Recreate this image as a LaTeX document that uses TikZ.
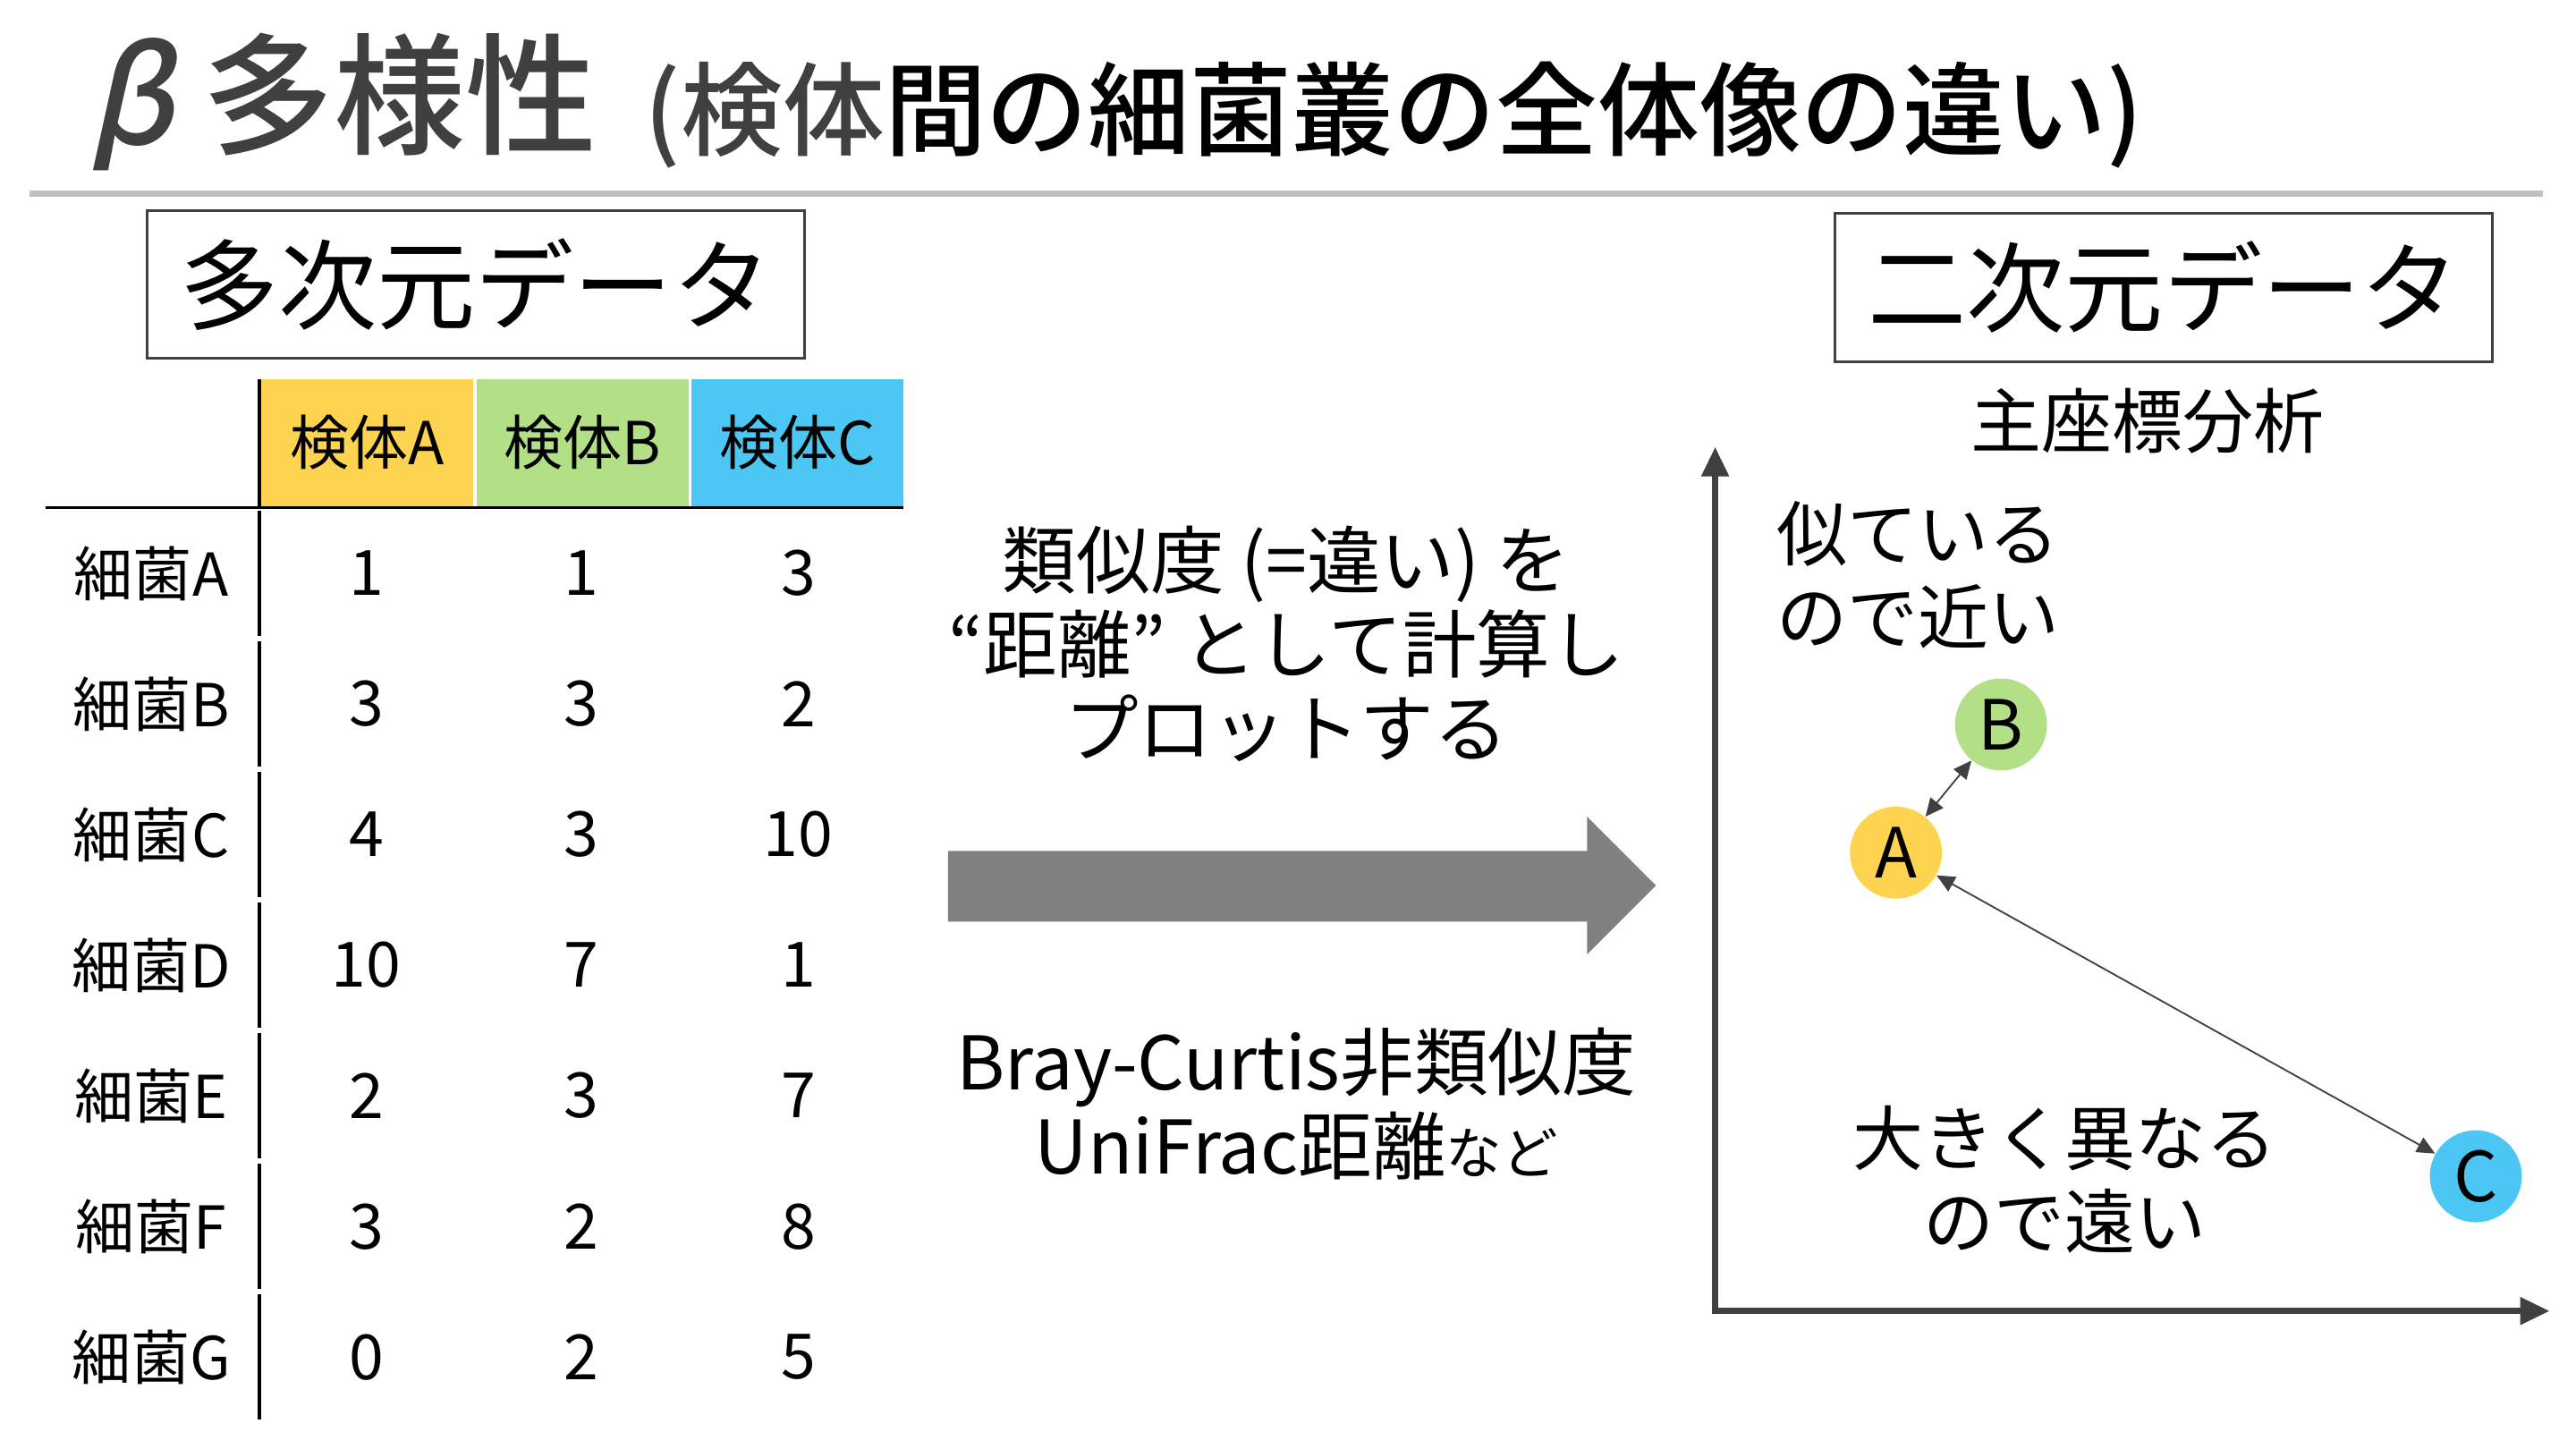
\documentclass[tikz,border=0pt]{standalone}
\usepackage{fontspec}
\setmainfont{Noto Sans CJK JP}
\newfontfamily\ttlfont{Noto Sans CJK JP}[UprightFont=* Medium]
\newfontfamily\slantcjk{Noto Sans CJK JP}[UprightFont=* Medium, FakeSlant=0.22]
\usetikzlibrary{arrows.meta, positioning}
\definecolor{ttlgray}{HTML}{404040}
\definecolor{lightline}{HTML}{C0C0C0}
\definecolor{bigarrow}{HTML}{808080}
\definecolor{smpA}{HTML}{FED34F}
\definecolor{smpB}{HTML}{B3DF86}
\definecolor{smpC}{HTML}{4CC6F2}
\tikzset{
    databox/.style={rectangle, draw=ttlgray, line width=0.8pt, minimum width=200pt, minimum height=45pt, font=\fontsize{30}{36}\selectfont}, % boxes at the top
    hdr/.style={rectangle, inner sep=0pt, minimum width=64.5pt, minimum height=38.5pt, font=\fontsize{18}{22}\selectfont},
    rowlbl/.style={inner sep=0pt, font=\fontsize{18}{22}\selectfont},
    cellnum/.style={inner sep=0pt, font=\fontsize{19}{22}\selectfont},
    tblline/.style={line width=1pt, black},
    bodytxt/.style={inner sep=0pt, align=center, font=\fontsize{22.5}{25.5}\selectfont},
    sample/.style={circle, inner sep=0pt, minimum size=28pt, font=\fontsize{21}{24}\selectfont},
    axis/.style={line width=2pt, ttlgray, {Triangle[length=9pt,width=8pt]}-{Triangle[length=9pt,width=8pt]}},
    dist/.style={line width=0.5pt, ttlgray, {Triangle[length=5.5pt,width=5pt]}-{Triangle[length=5.5pt,width=5pt]}},
}
\begin{document}
\begin{tikzpicture}[x=0.5pt, y=-0.5pt]
        \useasboundingbox (0,0) rectangle (1568,882);

        % Title
        \node[anchor=west, inner sep=0pt, ttlgray, font=\ttlfont\fontsize{40}{46}\selectfont] (ttl) at (53,62) {{\slantcjk β} 多様性};
        \node[anchor=west, inner sep=0pt, font=\ttlfont\fontsize{31}{36}\selectfont] (subttl) at (392,70) {\textcolor{ttlgray}{(検体}間の細菌叢の全体像の違い)};
        \draw[line width=1.8pt, lightline] (18,118) -- (1548,118);

        % Nodes
        \node[databox] (multi) at (289.5,173) {多次元データ};
        \node[databox] (twodim) at (1317,175) {二次元データ};
        \node[inner sep=0pt, font=\fontsize{21.5}{25}\selectfont] (pcoa) at (1307,256) {主座標分析};

        % Table
        \node[hdr, fill=smpA] (hA) at (223.5,269.5) {検体A};
        \node[hdr, fill=smpB] (hB) at (354.5,269.5) {検体B};
        \node[hdr, fill=smpC] (hC) at (485.5,269.5) {検体C};
        \draw[tblline] (28,309) -- (550,309);
        \draw[tblline] (158,231) -- (158,308);
        \foreach \lbl/\va/\vb/\vc [count=\i] in {A/1/1/3, B/3/3/2, C/4/3/10, D/10/7/1, E/2/3/7, F/3/2/8, G/0/2/5} {
            \node[rowlbl] (row\lbl) at (92,{349+79.5*(\i-1)}) {細菌\lbl};
            \node[cellnum] (cA\lbl) at (223,{349+79.5*(\i-1)}) {\va};
            \node[cellnum] (cB\lbl) at (354,{349+79.5*(\i-1)}) {\vb};
            \node[cellnum] (cC\lbl) at (486,{349+79.5*(\i-1)}) {\vc};
            \draw[tblline] (158,{311+79.5*(\i-1)}) -- (158,{307.5+79.5*\i});
        }

        % Middle
        \node[bodytxt] (howto) at (783,392) {類似度 (=違い) を\\“距離” として計算し\\プロットする};
        \fill[bigarrow] (577,518) -- (966,518) -- (966,497) -- (1008,539) -- (966,581) -- (966,561) -- (577,561) -- cycle;
        \node[bodytxt] (metric) at (789,672) {Bray-Curtis非類似度\\UniFrac距離{\fontsize{17}{20}\selectfont など}};

        % Plot
        \coordinate (ytip) at (1044,272);
        \coordinate (xtip) at (1552,798);
        \draw[axis] (ytip) |- (xtip);
        \node[bodytxt, anchor=west, align=left, font=\fontsize{21.5}{25.5}\selectfont] (near) at (1081,350) {似ている\\ので近い};
        \node[bodytxt, font=\fontsize{21.5}{25.5}\selectfont] (far) at (1257,718) {大きく異なる\\ので遠い};
        \node[sample, fill=smpB] (B) at (1218,441) {B};
        \node[sample, fill=smpA] (A) at (1154,519) {A};
        \node[sample, fill=smpC] (C) at (1507,716) {C};

        % Draw lines
        \draw[dist] (A) -- (B);
        \draw[dist] (A) -- (C);
    \end{tikzpicture}
\end{document}
